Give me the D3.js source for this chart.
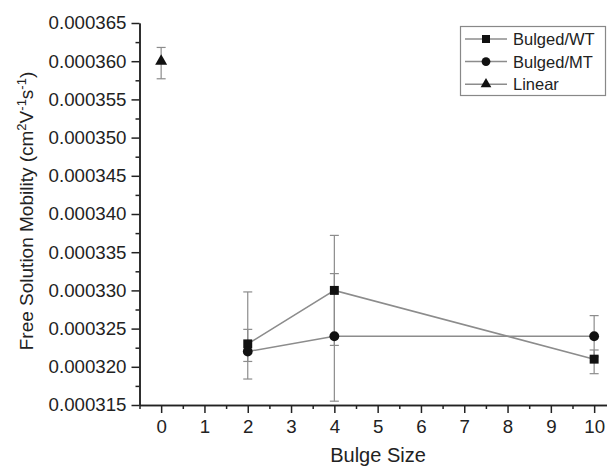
<!DOCTYPE html>
<html>
<head>
<meta charset="utf-8">
<script src="https://cdn.jsdelivr.net/npm/d3@7"></script>
<style>
  body { margin: 0; background: #fff; }
  svg { font-family: "Liberation Sans", Arial, sans-serif; }
</style>
</head>
<body>
<div id="canvas"></div>
<script>
// bulge size on x, mobility on y
var bulgeSizes = [2, 4, 10];
var wtValues = [0.000323, 0.000330, 0.000321];
var wtUpper = [0.0003298, 0.0003372, 0.0003222];
var wtLower = [0.0003207, 0.0003228, 0.0003191];
var mtValues = [0.000322, 0.000324, 0.000324];
var mtUpper = [0.0003249, 0.0003322, 0.0003267];
var mtLower = [0.0003184, 0.0003155, 0.0003213];
var linearX = [0];
var linearValues = [0.000360];
var linearUpper = [0.0003618];
var linearLower = [0.0003577];
var xTicks = [0, 1, 2, 3, 4, 5, 6, 7, 8, 9, 10];
var yTicks = [0.000315, 0.000320, 0.000325, 0.000330, 0.000335, 0.000340,
              0.000345, 0.000350, 0.000355, 0.000360, 0.000365];
var legendNames = ["Bulged/WT", "Bulged/MT", "Linear"];

var width = 607, height = 467;
var svg = d3.select("#canvas").append("svg")
  .attr("width", width)
  .attr("height", height);

var x = d3.scaleLinear().domain([-0.5, 10.5]).range([139.5, 615.8]);
var y = d3.scaleLinear().domain([0.000315, 0.000365]).range([405, 23]);

var lineColor = "#8c8c8c";
var markColor = "#111";

// axes
var bottomAxis = d3.axisBottom(x).tickValues(xTicks).tickSize(8).tickSizeOuter(0).tickPadding(7);
var xMinor = d3.axisBottom(x).tickValues(d3.range(-0.5, 10.6, 0.5).filter(d => d % 1 !== 0))
  .tickSize(4).tickSizeOuter(0).tickFormat("");
var leftAxis = d3.axisLeft(y).tickValues(yTicks).tickSize(8).tickSizeOuter(0)
  .tickPadding(5).tickFormat(d3.format(".6f"));
var yMinor = d3.axisLeft(y).tickValues(yTicks.slice(0, -1).map(d => d + 0.0000025))
  .tickSize(4).tickSizeOuter(0).tickFormat("");

function styleAxis(g) {
  g.selectAll("path, line").attr("stroke", "#222").attr("stroke-width", 1.5);
  g.selectAll("text").attr("fill", "#222").attr("font-size", "18.7px")
    .attr("font-family", "Liberation Sans, Arial, sans-serif");
}

svg.append("g").attr("transform", "translate(0," + y.range()[0] + ")").call(xMinor).call(styleAxis);
svg.append("g").attr("transform", "translate(0," + y.range()[0] + ")").call(bottomAxis).call(styleAxis);
svg.append("g").attr("transform", "translate(" + x.range()[0] + ",0)").call(yMinor).call(styleAxis);
svg.append("g").attr("transform", "translate(" + x.range()[0] + ",0)").call(leftAxis).call(styleAxis);

// axis labels
svg.append("text")
  .attr("x", 378).attr("y", 462)
  .attr("text-anchor", "middle")
  .attr("font-size", "20px").attr("fill", "#222")
  .text("Bulge Size");

var yl = svg.append("text")
  .attr("transform", "translate(33,211) rotate(-90)")
  .attr("text-anchor", "middle")
  .attr("font-size", "19px").attr("fill", "#222");
yl.append("tspan").text("Free Solution Mobility (cm");
yl.append("tspan").attr("dy", -7).attr("font-size", "13px").text("2");
yl.append("tspan").attr("dy", 7).text("V");
yl.append("tspan").attr("dy", -7).attr("font-size", "13px").text("-1");
yl.append("tspan").attr("dy", 7).text("s");
yl.append("tspan").attr("dy", -7).attr("font-size", "13px").text("-1");
yl.append("tspan").attr("dy", 7).text(")");

// series
function rows(xs, vs, up, lo) {
  return xs.map((d, i) => ({x: d, v: vs[i], up: up[i], lo: lo[i]}));
}
var wt = rows(bulgeSizes, wtValues, wtUpper, wtLower);
var mt = rows(bulgeSizes, mtValues, mtUpper, mtLower);
var lin = rows(linearX, linearValues, linearUpper, linearLower);

function errorBars(data) {
  var g = svg.append("g").attr("stroke", lineColor).attr("stroke-width", 1.2);
  data.forEach(d => {
    g.append("line").attr("x1", x(d.x)).attr("x2", x(d.x)).attr("y1", y(d.up)).attr("y2", y(d.lo));
    g.append("line").attr("x1", x(d.x) - 4.5).attr("x2", x(d.x) + 4.5).attr("y1", y(d.up)).attr("y2", y(d.up));
    g.append("line").attr("x1", x(d.x) - 4.5).attr("x2", x(d.x) + 4.5).attr("y1", y(d.lo)).attr("y2", y(d.lo));
  });
}
errorBars(wt);
errorBars(mt);
errorBars(lin);

var line = d3.line().x(d => x(d.x)).y(d => y(d.v));
[wt, mt].forEach(s => {
  svg.append("path").datum(s)
    .attr("d", line)
    .attr("fill", "none")
    .attr("stroke", lineColor)
    .attr("stroke-width", 1.5);
});

var symbols = [d3.symbolSquare, d3.symbolCircle, d3.symbolTriangle];
var symSizes = [80, 76, 62];
[wt, mt, lin].forEach((s, k) => {
  svg.selectAll(null).data(s).enter()
    .append("path")
    .attr("d", d3.symbol().type(symbols[k]).size(symSizes[k]))
    .attr("transform", d => "translate(" + x(d.x) + "," + y(d.v) + ")")
    .attr("fill", markColor);
});

// legend
var lg = svg.append("g");
lg.append("rect")
  .attr("x", 460.5).attr("y", 26.5).attr("width", 145).attr("height", 69)
  .attr("fill", "#fff").attr("stroke", "#888").attr("stroke-width", 1.2);
legendNames.forEach((name, i) => {
  var cy = 39 + i * 22.6;
  lg.append("line").attr("x1", 465).attr("x2", 507).attr("y1", cy).attr("y2", cy)
    .attr("stroke", lineColor).attr("stroke-width", 1.5);
  lg.append("path")
    .attr("d", d3.symbol().type(symbols[i]).size(symSizes[i] * 0.8))
    .attr("transform", "translate(486," + cy + ")")
    .attr("fill", markColor);
  lg.append("text").attr("x", 513).attr("y", cy + 6)
    .attr("font-size", "16.5px").attr("fill", "#222")
    .text(name);
});
</script>
</body>
</html>
